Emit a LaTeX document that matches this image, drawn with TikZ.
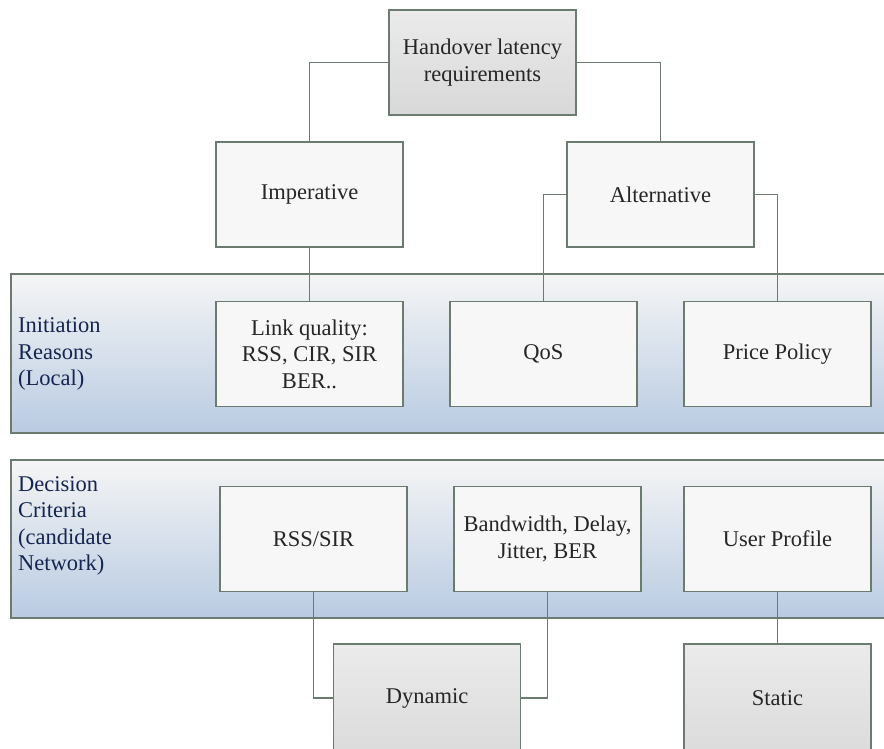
\documentclass[tikz,border=0pt]{standalone}
\usepackage{fontspec}
\setmainfont{Liberation Serif}
\begin{document}
\begin{tikzpicture}[x=1pt,y=-1pt,
  every node/.style={font=\fontsize{22.5}{26.5}\selectfont},
  lbox/.style={draw=edge,line width=1.3pt,fill=boxfill,minimum width=187pt,minimum height=105pt,inner sep=0pt,align=center,text=black!85},
  gbox/.style={draw=edge,line width=1.3pt,top color=graytop,bottom color=graybot,minimum width=187pt,minimum height=105pt,inner sep=0pt,align=center,text=black!85},
  band/.style={draw=edge,line width=1.3pt,top color=bandtop,bottom color=bandbot},
  conn/.style={draw=edge,line width=1.7pt},
  lbl/.style={anchor=west,align=left,text=navy,inner sep=0pt}]
\definecolor{edge}{HTML}{6B7B70}
\definecolor{boxfill}{HTML}{F7F7F7}
\definecolor{graytop}{HTML}{EBEBEB}
\definecolor{graybot}{HTML}{D8D8D8}
\definecolor{bandtop}{HTML}{F5F5F5}
\definecolor{bandbot}{HTML}{B9CBE2}
\definecolor{navy}{HTML}{14254F}
\useasboundingbox (0,0) rectangle (884,749);
\clip (0,0) rectangle (884,749);
% bands
\path[band] (11,274) rectangle (900,433);
\path[band] (11,460) rectangle (900,618);
\node[lbl] (lab1) at (18,354) {Initiation\\Reasons\\(Local)};
\node[lbl] (lab2) at (18,526) {Decision\\Criteria\\(candidate\\Network)};
% boxes
\node[gbox] (top) at (482.5,62.5) {Handover latency\\requirements};
\node[lbox] (imp) at (309.5,194.5) {Imperative};
\node[lbox] (alt) at (660.5,194.5) {Alternative};
\node[lbox] (link) at (309.5,354) {Link quality:\\RSS, CIR, SIR\\BER..};
\node[lbox] (qos) at (543.5,354) {QoS};
\node[lbox] (price) at (777.5,354) {Price Policy};
\node[lbox] (rss) at (313.5,539) {RSS/SIR};
\node[lbox] (bw) at (547.5,539) {Bandwidth, Delay,\\Jitter, BER};
\node[lbox] (user) at (777.5,539) {User Profile};
\node[gbox,minimum height=130pt] (dyn) at (427,709) {};
\node[gbox,minimum height=130pt] (stat) at (777.5,709) {};
\node[text=black!85] (dyntxt) at (427,698) {Dynamic};
\node[text=black!85] (stattxt) at (777.5,698) {Static};
% connectors
\draw[conn] (top.west) -| (imp.north);
\draw[conn] (top.east) -| (alt.north);
\draw[conn] (imp.south) -- (link.north);
\draw[conn] (alt.west) -| (qos.north);
\draw[conn] (alt.east) -| (price.north);
\draw[conn] (rss.south) |- (dyn.west |- dyntxt);
\draw[conn] (bw.south) |- (dyn.east |- dyntxt);
\draw[conn] (user.south) -- (stat.north);
\end{tikzpicture}
\end{document}
